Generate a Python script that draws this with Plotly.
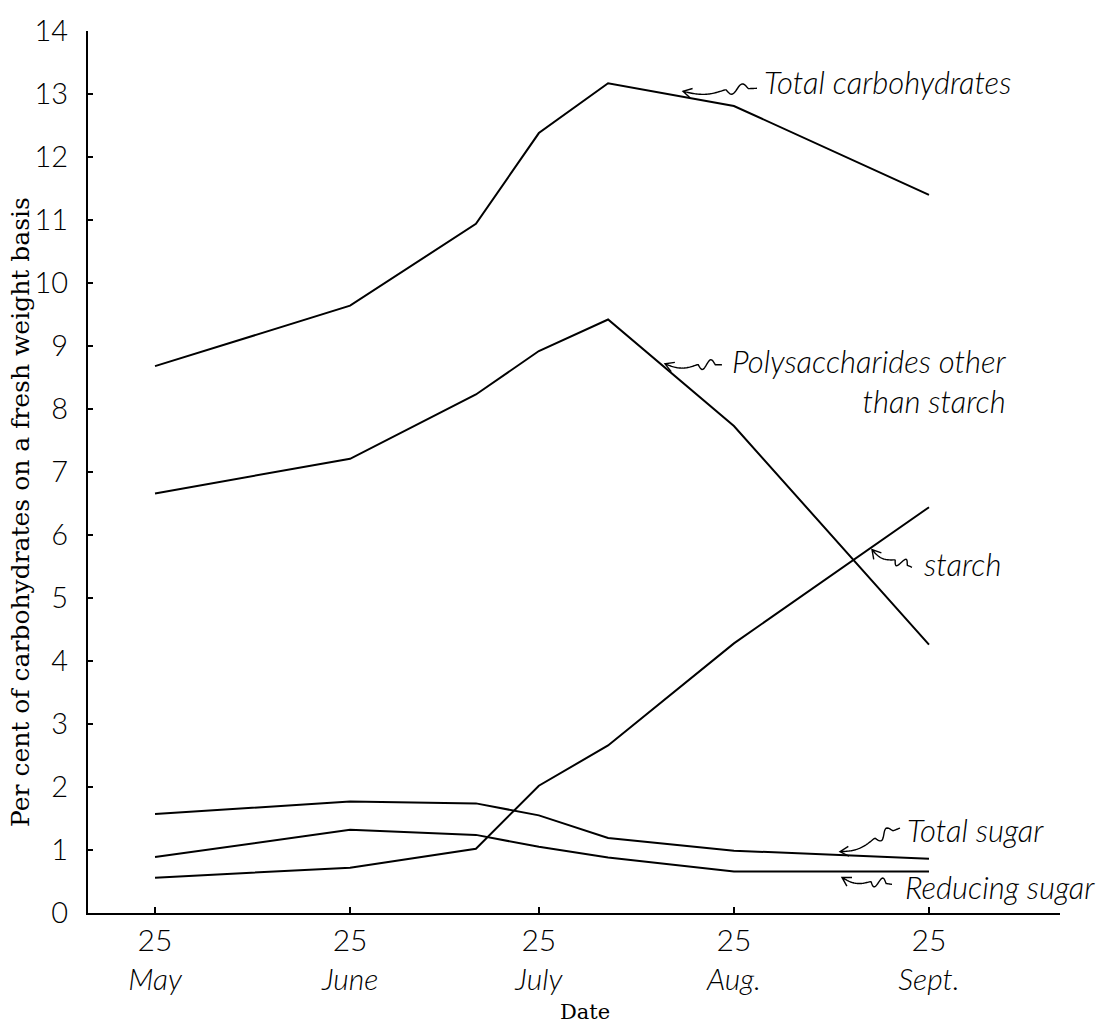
import math
import plotly.graph_objects as go

# Sampling dates and carbohydrate fractions (% of fresh weight)
dates = ["1930-05-25", "1930-06-25", "1930-07-15", "1930-07-25",
         "1930-08-05", "1930-08-25", "1930-09-25"]
total_carbohydrates = [8.68, 9.64, 10.94, 12.38, 13.17, 12.81, 11.40]
polysaccharides = [6.66, 7.21, 8.23, 8.92, 9.42, 7.73, 4.26]
starch = [0.56, 0.72, 1.02, 2.02, 2.66, 4.28, 6.44]
total_sugar = [1.57, 1.77, 1.74, 1.55, 1.19, 0.99, 0.86]
reducing_sugar = [0.89, 1.32, 1.24, 1.05, 0.88, 0.66, 0.66]

tick_dates = ["1930-05-25", "1930-06-25", "1930-07-25", "1930-08-25", "1930-09-25"]
tick_months = ["May", "June", "July", "Aug.", "Sept."]
y_ticks = list(range(0, 15))

W, H = 1112, 1027
ML, MR, MT, MB = 88, 52, 20, 114
PW, PH = W - ML - MR, H - MT - MB


def px_x(px):
    return (px - ML) / PW


def px_y(py):
    return (H - MB - py) / PH


def squiggle(head, tail, amp=5.0, start=0.12, end=0.42, bow=4.0, barb=10.0):
    """Wavy leader line from a label (tail) to a curve (head), with an open arrowhead."""
    hx, hy = head
    tx, ty = tail
    dx, dy = hx - tx, hy - ty
    length = math.hypot(dx, dy)
    ux, uy = dx / length, dy / length
    nx, ny = -uy, ux
    pts = []
    n = 60
    for i in range(n + 1):
        t = i / n
        off = 0.0
        if start <= t <= end:
            s = (t - start) / (end - start)
            off = amp * math.sin(2 * math.pi * s)
        elif t > end:
            s = (t - end) / (1 - end)
            off = -bow * math.sin(math.pi * s)
        pts.append((tx + dx * t + nx * off, ty + dy * t + ny * off))
    # arrowhead oriented along the final stretch of the leader
    ex, ey = pts[-1][0] - pts[-5][0], pts[-1][1] - pts[-5][1]
    el = math.hypot(ex, ey)
    bx, by = -ex / el, -ey / el
    ang = math.radians(30)
    barbs = []
    for a in (ang, -ang):
        rx = bx * math.cos(a) - by * math.sin(a)
        ry = bx * math.sin(a) + by * math.cos(a)
        barbs.append((hx + rx * barb, hy + ry * barb))
    path = "M " + " L ".join(f"{px_x(x):.5f},{px_y(y):.5f}" for x, y in pts)
    path += (f" M {px_x(barbs[0][0]):.5f},{px_y(barbs[0][1]):.5f}"
             f" L {px_x(hx):.5f},{px_y(hy):.5f}"
             f" L {px_x(barbs[1][0]):.5f},{px_y(barbs[1][1]):.5f}")
    return path


fig = go.Figure()
line_style = dict(color="black", width=2)
for name, values in [("Total carbohydrates", total_carbohydrates),
                     ("Polysaccharides other than starch", polysaccharides),
                     ("Starch", starch),
                     ("Total sugar", total_sugar),
                     ("Reducing sugar", reducing_sugar)]:
    fig.add_trace(go.Scatter(x=dates, y=values, mode="lines", name=name,
                             line=line_style, showlegend=False))

label_font = dict(family="Lato", size=31, color="black", style="italic", weight=300)
labels = [
    ("Total carbohydrates", 762, 72, "left"),
    ("Polysaccharides other<br>than starch", 730, 374, "right"),
    ("starch", 922, 560, "left"),
    ("Total sugar", 905, 829, "left"),
    ("Reducing sugar", 903, 887, "left"),
]
annotations = []
for text, lx, ly, align in labels:
    annotations.append(dict(text=text, xref="paper", yref="paper",
                            x=px_x(lx), y=px_y(ly), xanchor="left", yanchor="middle",
                            align=align, showarrow=False, font=label_font))

annotations.append(dict(text="Per cent of carbohydrates on a fresh weight basis",
                        xref="paper", yref="paper", x=px_x(20), y=px_y(507),
                        xanchor="center", yanchor="middle", textangle=-90,
                        showarrow=False,
                        font=dict(family="DejaVu Serif", size=25, color="black")))
annotations.append(dict(text="Date", xref="paper", yref="paper",
                        x=px_x(585), y=px_y(1013), xanchor="center", yanchor="middle",
                        showarrow=False,
                        font=dict(family="DejaVu Serif", size=21, color="black")))

leaders = [
    ((683, 81), (757, 78)),
    ((665, 357), (722, 358)),
    ((872, 545), (912, 563)),
    ((840, 851), (900, 827)),
    ((842, 877), (892, 884)),
]
shapes = [dict(type="path", xref="paper", yref="paper", path=squiggle(h, t),
               line=dict(color="black", width=1.4)) for h, t in leaders]

fig.update_layout(
    width=W, height=H,
    margin=dict(l=ML, r=MR, t=MT, b=MB),
    paper_bgcolor="white", plot_bgcolor="white",
    annotations=annotations, shapes=shapes,
    xaxis=dict(
        type="date",
        range=["1930-05-14 08:24", "1930-10-15 19:40"],
        tickvals=tick_dates,
        ticktext=[f"25<br><i>{m}</i>" for m in tick_months],
        ticks="inside", ticklen=6, tickwidth=1.5, tickcolor="black",
        showline=True, linecolor="black", linewidth=2,
        showgrid=False, zeroline=False,
        tickfont=dict(family="Lato", size=30, color="black", weight=300),
    ),
    yaxis=dict(
        range=[0, 14],
        tickvals=y_ticks,
        ticks="inside", ticklen=5, tickwidth=1.5, tickcolor="black",
        showline=True, linecolor="black", linewidth=2,
        showgrid=False, zeroline=False,
        ticklabelstandoff=12,
        tickfont=dict(family="Lato", size=29, color="black", weight=300),
    ),
)

fig.write_html("out.html")
